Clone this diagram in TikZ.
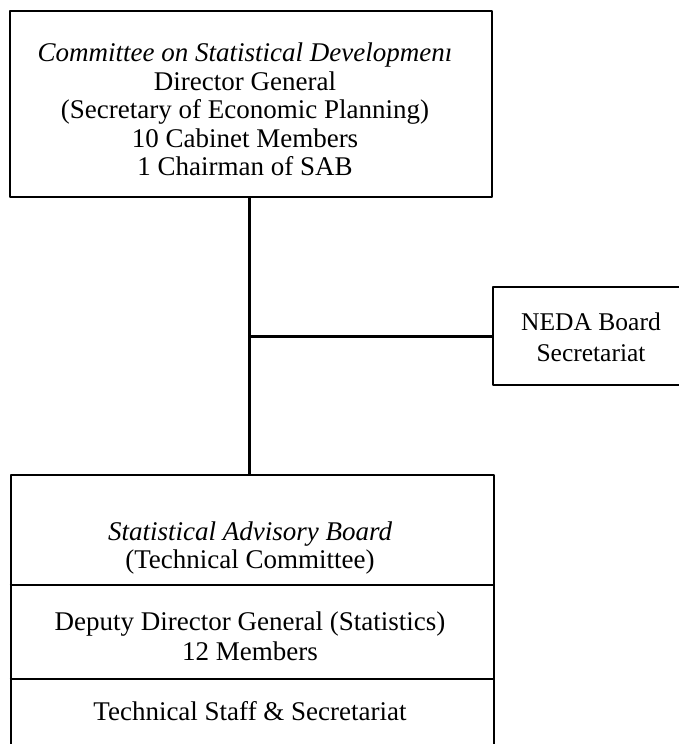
\documentclass[tikz,border=0pt]{standalone}
\usepackage{fontspec}
\setmainfont{Liberation Serif}
\begin{document}
\begin{tikzpicture}[x=1pt,y=-1pt,
  boxline/.style={draw=black,line width=2.8pt,line join=round,inner sep=0pt},
  conn/.style={draw=black,line width=3pt},
  txt/.style={anchor=base,inner sep=0pt,font=\fontsize{27}{30}\selectfont},
  ntxt/.style={anchor=base,inner sep=0pt,font=\fontsize{25.5}{30}\selectfont}]
\useasboundingbox[fill=white] (0,0) rectangle (679,744);
% boxes
\node[boxline,minimum width=482pt,minimum height=186pt] (cd) at (251,104) {};
\node[boxline,minimum width=280pt,minimum height=98pt] (neda) at (633,336) {};
\node[boxline,minimum width=483pt,minimum height=330pt] (sab) at (252.5,640) {};
\coordinate (vx) at (249,0);
\coordinate (d1) at (0,585);
\coordinate (d2) at (0,679);
\draw[boxline] (sab.west |- d1) -- (sab.east |- d1);
\draw[boxline] (sab.west |- d2) -- (sab.east |- d2);
% connectors
\draw[conn] (cd.south -| vx) -- (sab.north -| vx);
\draw[conn] (neda.west) -- (neda.west -| vx);
% texts
\node[txt] (t1) at (245,61) {\itshape Committee on Statistical Developmenı};
\node[txt] (t2) at (245,90) {Director General};
\node[txt] (t3) at (245,118) {(Secretary of Economic Planning)};
\node[txt] (t4) at (245,147) {10 Cabinet Members};
\node[txt] (t5) at (245,175) {1 Chairman of SAB};
\node[ntxt] (n1) at (591,330) {NEDA Board};
\node[ntxt] (n2) at (591,361) {Secretariat};
\node[txt] (b1) at (250,540) {\itshape Statistical Advisory Board};
\node[txt] (b2) at (250,568) {(Technical Committee)};
\node[txt] (b3) at (250,630) {Deputy Director General (Statistics)};
\node[txt] (b4) at (250,660) {12 Members};
\node[txt] (b5) at (250,720) {Technical Staff \& Secretariat};
\end{tikzpicture}
\end{document}
